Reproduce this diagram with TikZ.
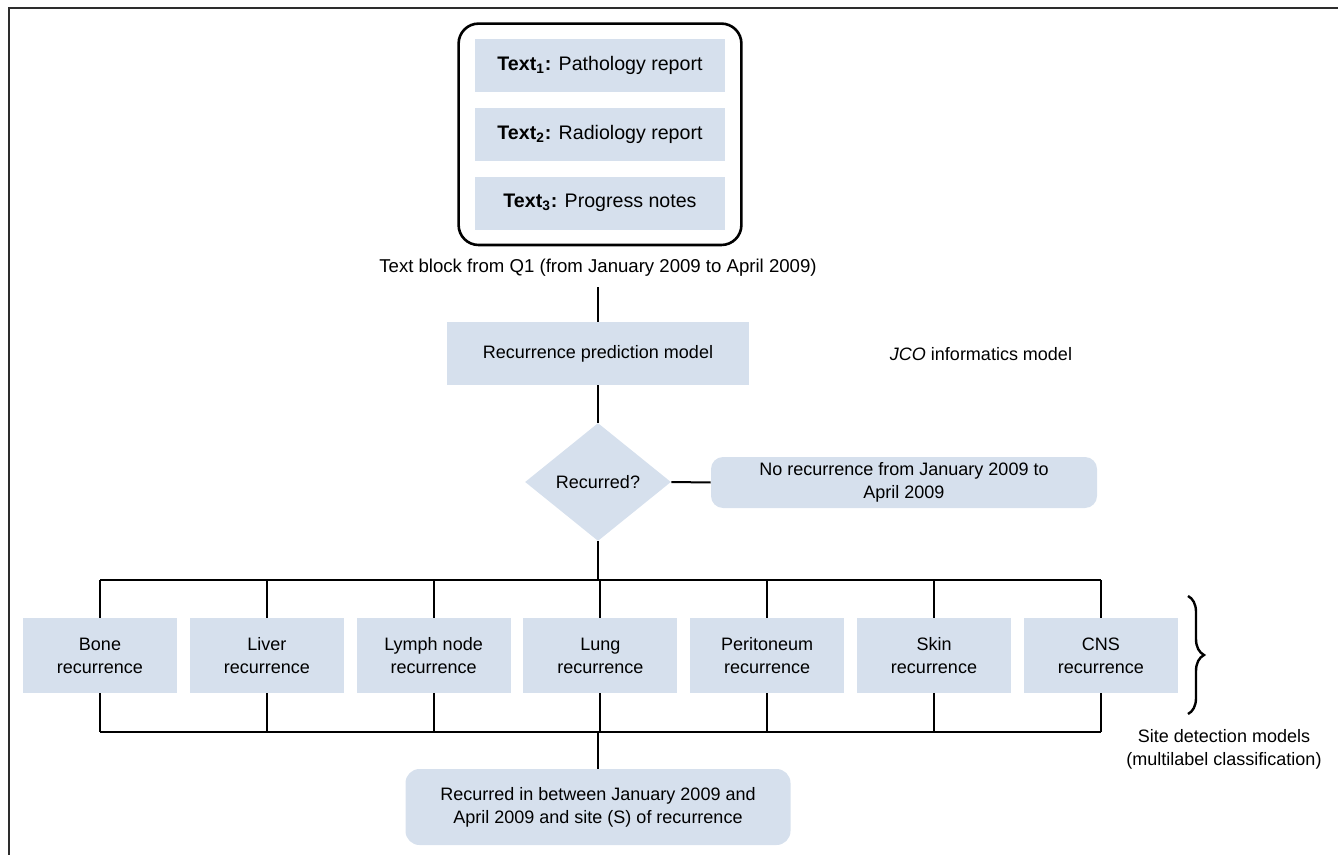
\documentclass[tikz,border=0pt]{standalone}
\usepackage{fontspec}
\setmainfont{Liberation Sans}
\usetikzlibrary{positioning, fit, shapes.geometric, decorations.pathreplacing}

\definecolor{boxblue}{RGB}{214,224,237}
\definecolor{framegray}{RGB}{45,45,45}

\tikzset{
    txt/.style={font=\fontsize{9}{11.5}\selectfont, align=center, inner sep=0pt},
    bluebox/.style={txt, fill=boxblue, minimum width=#1, minimum height=26.5pt},
    srcbox/.style={bluebox=125pt, font=\fontsize{9.8}{12}\selectfont},
    sitebox/.style={txt, fill=boxblue, minimum width=77pt, minimum height=37.5pt},
    conn/.style={line width=1pt},
    bus/.style={line width=1.4pt},
}

\begin{document}
\begin{tikzpicture}[x=0.5pt, y=-0.5pt]
    \useasboundingbox (0,0) rectangle (1338,855);

    % frame (top and left only)
    \coordinate (frameTR) at (1338,8);
    \coordinate (frameTL) at (9,8);
    \coordinate (frameBL) at (9,855);
    \draw[framegray, line width=1.2pt] (frameTR) -- (frameTL) -- (frameBL);

    % text block
    \node[srcbox] (text1) at (600,65.5) {\textbf{Text\textsubscript{1}:} Pathology report};
    \node[srcbox, below=7.5pt of text1] (text2) {\textbf{Text\textsubscript{2}:} Radiology report};
    \node[srcbox, below=7.5pt of text2] (text3) {\textbf{Text\textsubscript{3}:} Progress notes};
    \node[draw, line width=1.3pt, rounded corners=10pt, inner xsep=8pt, inner ysep=7.5pt, fit=(text1)(text3)] (block) {};
    \node[txt, font=\fontsize{9.3}{11.5}\selectfont] (caption) at (598,268) {Text block from Q1 (from January 2009 to April 2009)};

    % prediction
    \node[bluebox=151pt, minimum height=31.5pt] (model) at (598,353.5) {Recurrence prediction model};
    \node[txt] (jco) at (981,354) {\textit{JCO} informatics model};
    \node[txt, diamond, fill=boxblue, minimum width=73pt, minimum height=59pt] (recur) at (598,482) {Recurred?};
    \node[bluebox=193pt, minimum height=25.5pt, rounded corners=6pt] (norec) at (904,482.5) {No recurrence from January 2009 to\\April 2009};

    % site detection models
    \node[sitebox] (bone) at (100,655.5) {Bone\\recurrence};
    \node[sitebox, right=6pt of bone] (liver) {Liver\\recurrence};
    \node[sitebox, right=6pt of liver] (lymph) {Lymph node\\recurrence};
    \node[sitebox, right=6pt of lymph] (lung) {Lung\\recurrence};
    \node[sitebox, right=6pt of lung] (perit) {Peritoneum\\recurrence};
    \node[sitebox, right=6pt of perit] (skin) {Skin\\recurrence};
    \node[sitebox, right=6pt of skin] (cns) {CNS\\recurrence};

    \coordinate (busT) at (598,580);
    \coordinate (busB) at (598,732);
    \coordinate (braceT) at (1188,596);
    \coordinate (braceB) at (1188,714);

    \node[txt, minimum width=192.5pt, minimum height=38pt, fill=boxblue, rounded corners=7pt] (result) at (598,807) {Recurred in between January 2009 and\\April 2009 and site (S) of recurrence};
    \node[txt] (sitecap) at (1224,749) {Site detection models\\(multilabel classification)};

    % connectors
    \draw[conn, shorten <=5pt] (caption.south) -- (model.north);
    \draw[conn] (model.south) -- (recur.north);
    \draw[conn] (recur.east) -- (norec.west);
    \draw[conn] (recur.south) -- (busT);
    \draw[bus] (bone.north |- busT) -- (cns.north |- busT);
    \draw[bus] (bone.south |- busB) -- (cns.south |- busB);
    \foreach \s in {bone, liver, lymph, lung, perit, skin, cns} {
        \draw[conn] (\s.north) -- (\s.north |- busT);
        \draw[conn] (\s.south) -- (\s.south |- busB);
    }
    \draw[conn] (busB) -- (result.north);
    \draw[line width=1.2pt, decorate, decoration={brace, amplitude=8pt}] (braceT) -- (braceB);
\end{tikzpicture}
\end{document}
